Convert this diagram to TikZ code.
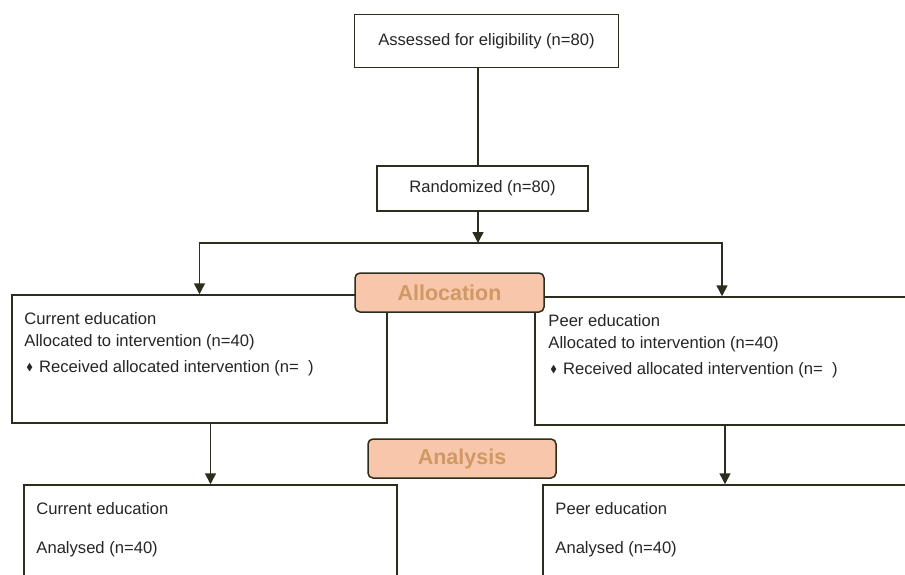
\documentclass[tikz,border=0pt]{standalone}
\usepackage{fontspec}
\setmainfont{Liberation Sans}
\usepackage{amssymb}
\usetikzlibrary{positioning, arrows.meta}
\definecolor{peach}{RGB}{248,198,170}
\definecolor{tanlabel}{RGB}{208,152,100}
\definecolor{olive}{RGB}{45,45,30}
\newcommand{\bul}{\hspace{2pt}\raisebox{2pt}{\scalebox{0.6}{$\blacklozenge$}}\hspace{6pt}}

\begin{document}
\begin{tikzpicture}[
  x=1pt, y=-1pt,
  every node/.style={
    font=\fontsize{16.6}{22}\selectfont,
    inner sep=0pt,
    text=black!85,
  },
  box/.style={draw=olive, line width=1.5pt, fill=white},
  stage/.style={
    box,
    fill=peach,
    rounded corners=5pt,
    text=tanlabel,
    font=\fontsize{21.5}{21.5}\selectfont\bfseries,
  },
  line/.style={draw=olive, line width=1.5pt},
  arr/.style={line, -{Triangle[width=11pt,length=11pt]}},
  txt/.style={anchor=north west, align=left},
]

\clip (0,0) rectangle (905,574);
\fill[white] (0,0) rectangle (905,574);

\node[box, minimum width=264pt, minimum height=53pt] (assess) at (486.5,41) {Assessed for eligibility (n=80)};
\node[box, minimum width=211pt, minimum height=45pt] (rand) at (482.5,188.5) {Randomized (n=80)};

\node[box, minimum width=375pt, minimum height=128pt] (cur) at (199.5,359) {};
\node[box, minimum width=374pt, minimum height=128pt] (peer) at (722,361) {};
\node[box, minimum width=373pt, minimum height=120pt] (curA) at (210.5,545) {};
\node[box, minimum width=364pt, minimum height=120pt] (peerA) at (725,545) {};

\node[txt, below right=18pt and 13pt of cur.north west] (curtxt) {
  Current education\\
  Allocated to intervention (n=40)\\[4pt]
  \bul Received allocated intervention (n= \ )
};
\node[txt, below right=18pt and 14pt of peer.north west] (peertxt) {
  Peer education\\
  Allocated to intervention (n=40)\\[4pt]
  \bul Received allocated intervention (n= \ )
};
\node[txt, below right=18pt and 13pt of curA.north west] (curAtxt) {
  Current education\\[17pt]
  Analysed (n=40)
};
\node[txt, below right=18pt and 13pt of peerA.north west] (peerAtxt) {
  Peer education\\[17pt]
  Analysed (n=40)
};

\coordinate (split) at (478,243);
\draw[line] (split |- assess.south) -- (split |- rand.north);
\draw[arr] (split |- rand.south) -- (split);
\draw[arr] (split) -| (cur.north);
\draw[arr] (split) -| (peer.north);
\draw[arr] (cur.south -| curA.north) -- (curA.north);
\draw[arr] (peer.south -| peerA.north) -- (peerA.north);

\node[stage, minimum width=189pt, minimum height=39pt] (alloc) at (449.5,292.5) {Allocation};
\node[stage, minimum width=188pt, minimum height=39pt] (ana) at (462,458.5) {Analysis};

\end{tikzpicture}
\end{document}
